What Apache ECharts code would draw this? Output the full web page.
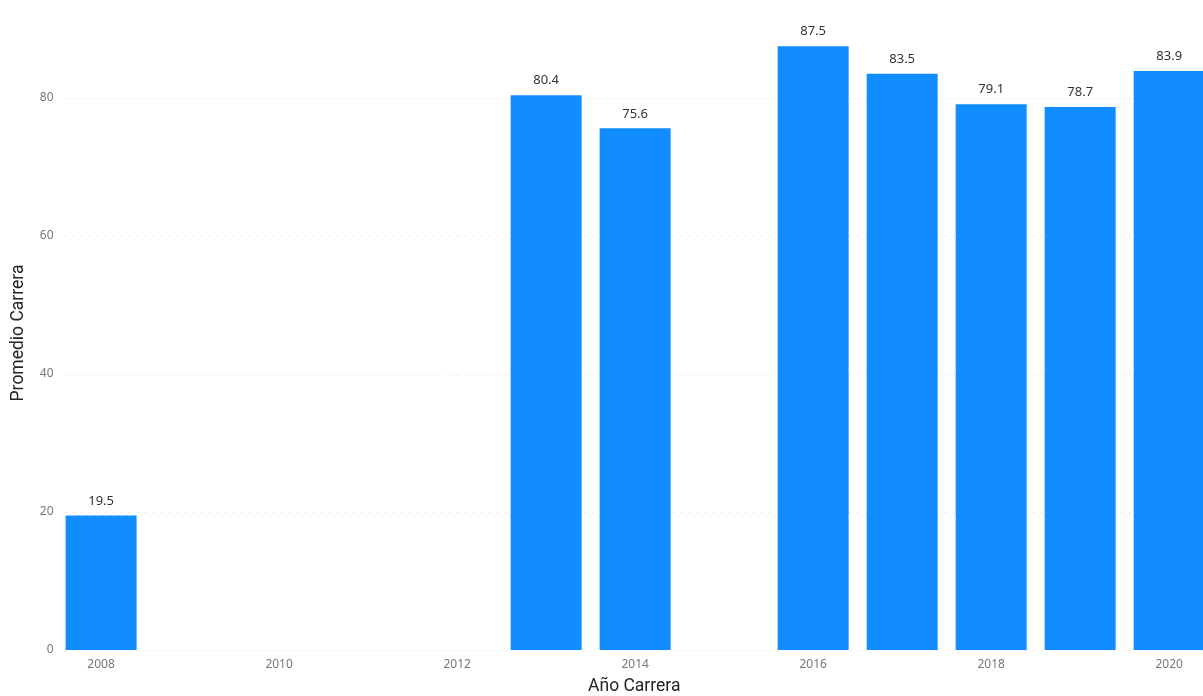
<!DOCTYPE html>
<html>
<head>
<meta charset="utf-8">
<script src="https://cdn.jsdelivr.net/npm/echarts@6/dist/echarts.min.js"></script>
<style>
  html, body { margin: 0; padding: 0; background: #fff; }
  #chart { width: 1203px; height: 696px; }
</style>
</head>
<body>
<div id="chart"></div>
<script>
// datos
const years = [2008, 2013, 2014, 2016, 2017, 2018, 2019, 2020];
const promedios = [19.5, 80.4, 75.6, 87.5, 83.5, 79.1, 78.7, 83.9];
const xTicks = [2008, 2010, 2012, 2014, 2016, 2018, 2020];

const chart = echarts.init(document.getElementById('chart'));

const option = {
    animation: false,
    grid: { left: 65.5, right: 0, top: -40, bottom: 46, outerBoundsMode: 'none', containLabel: false },
    xAxis: {
        type: 'value',
        min: 2007.6,
        max: 2020.38,
        name: 'Año Carrera',
        nameLocation: 'middle',
        nameGap: 28,
        nameTextStyle: { fontFamily: 'Roboto', fontSize: 17.5, color: '#252423' },
        axisLine: { show: false },
        axisTick: { show: false },
        splitLine: { show: false },
        axisLabel: {
            customValues: xTicks,
            margin: 9,
            fontFamily: 'Noto Sans',
            fontSize: 12,
            color: '#777',
            formatter: v => String(v)
        }
    },
    yAxis: {
        type: 'value',
        min: 0,
        max: 100,
        interval: 20,
        name: 'Promedio Carrera',
        nameLocation: 'middle',
        nameGap: 38,
        nameMoveOverlap: false,
        nameTextStyle: { fontFamily: 'Roboto', fontSize: 17.5, color: '#252423', padding: [0, 56, 0, 0] },
        axisLine: { show: false },
        axisTick: { show: false },
        axisLabel: { margin: 12, fontFamily: 'Noto Sans', fontSize: 12, color: '#777' },
        splitLine: { lineStyle: { color: '#cfcfcf', type: [1, 7], width: 1 } }
    },
    series: [{
        type: 'bar',
        barWidth: 71,
        data: years.map((y, i) => [y, promedios[i]]),
        itemStyle: { color: '#118DFF' },
        label: {
            show: true,
            position: 'top',
            distance: 8,
            fontFamily: 'Noto Sans',
            fontSize: 13,
            color: '#333'
        }
    }]
};
chart.setOption(option);
window.addEventListener('resize', () => chart.resize());
</script>
</body>
</html>
